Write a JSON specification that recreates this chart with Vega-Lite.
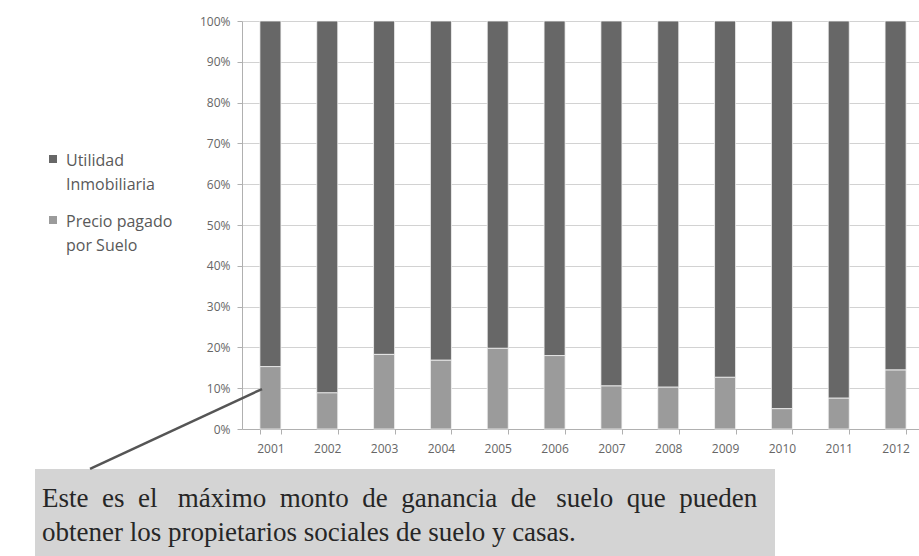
{
  "$schema": "https://vega.github.io/schema/vega-lite/v6.json",
  "width": 677,
  "height": 408,
  "autosize": {"type": "none"},
  "padding": {"left": 242, "top": 21, "right": 0, "bottom": 127},
  "background": "white",
  "config": {
    "view": {"stroke": null},
    "style": {"guide-label": {"lineHeight": 24, "dy": -6}}
  },
  "data": {
    "values": [
      {"anio": "2001", "serie": "Precio pagado por Suelo", "valor": 15.3},
      {"anio": "2001", "serie": "Utilidad Inmobiliaria", "valor": 84.7},
      {"anio": "2002", "serie": "Precio pagado por Suelo", "valor": 8.9},
      {"anio": "2002", "serie": "Utilidad Inmobiliaria", "valor": 91.1},
      {"anio": "2003", "serie": "Precio pagado por Suelo", "valor": 18.3},
      {"anio": "2003", "serie": "Utilidad Inmobiliaria", "valor": 81.7},
      {"anio": "2004", "serie": "Precio pagado por Suelo", "valor": 16.9},
      {"anio": "2004", "serie": "Utilidad Inmobiliaria", "valor": 83.1},
      {"anio": "2005", "serie": "Precio pagado por Suelo", "valor": 19.8},
      {"anio": "2005", "serie": "Utilidad Inmobiliaria", "valor": 80.2},
      {"anio": "2006", "serie": "Precio pagado por Suelo", "valor": 18.0},
      {"anio": "2006", "serie": "Utilidad Inmobiliaria", "valor": 82.0},
      {"anio": "2007", "serie": "Precio pagado por Suelo", "valor": 10.6},
      {"anio": "2007", "serie": "Utilidad Inmobiliaria", "valor": 89.4},
      {"anio": "2008", "serie": "Precio pagado por Suelo", "valor": 10.3},
      {"anio": "2008", "serie": "Utilidad Inmobiliaria", "valor": 89.7},
      {"anio": "2009", "serie": "Precio pagado por Suelo", "valor": 12.7},
      {"anio": "2009", "serie": "Utilidad Inmobiliaria", "valor": 87.3},
      {"anio": "2010", "serie": "Precio pagado por Suelo", "valor": 5.0},
      {"anio": "2010", "serie": "Utilidad Inmobiliaria", "valor": 95.0},
      {"anio": "2011", "serie": "Precio pagado por Suelo", "valor": 7.6},
      {"anio": "2011", "serie": "Utilidad Inmobiliaria", "valor": 92.4},
      {"anio": "2012", "serie": "Precio pagado por Suelo", "valor": 14.5},
      {"anio": "2012", "serie": "Utilidad Inmobiliaria", "valor": 85.5}
    ]
  },
  "layer": [
    {
      "mark": {"type": "bar", "stroke": "#f4f4f4", "strokeWidth": 0.8},
      "encoding": {
        "x": {
          "field": "anio",
          "type": "nominal",
          "scale": {"range": [0, 682], "paddingInner": 0.63, "paddingOuter": 0.315},
          "axis": {
            "title": null,
            "labelAngle": 0,
            "tickBand": "extent",
            "tickSize": 5,
            "tickColor": "#b0b0b0",
            "domainColor": "#b0b0b0",
            "labelFont": "Open Sans",
            "labelFontSize": 12,
            "labelColor": "#666666",
            "labelPadding": 15
          }
        },
        "y": {
          "field": "valor",
          "type": "quantitative",
          "stack": "normalize",
          "scale": {"domain": [0, 1]},
          "axis": {
            "title": null,
            "format": ".0%",
            "values": [0, 0.1, 0.2, 0.3, 0.4, 0.5, 0.6, 0.7, 0.8, 0.9, 1],
            "tickSize": 5,
            "tickColor": "#b0b0b0",
            "domainColor": "#b0b0b0",
            "gridColor": "#d2d2d2",
            "labelFont": "Open Sans",
            "labelFontSize": 12,
            "labelColor": "#666666",
            "labelPadding": 7,
            "labelOffset": 6
          }
        },
        "color": {
          "field": "serie",
          "type": "nominal",
          "scale": {
            "domain": ["Utilidad Inmobiliaria", "Precio pagado por Suelo"],
            "range": ["#676767", "#9b9b9b"]
          },
          "legend": {
            "title": null,
            "orient": "none",
            "legendX": -197,
            "legendY": 130,
            "symbolType": "square",
            "symbolSize": 64,
            "symbolStrokeWidth": 0,
            "labelFont": "Open Sans",
            "labelFontSize": 16,
            "labelColor": "#595959",
            "labelOffset": 5,
            "labelBaseline": "top",
            "rowPadding": 19,
            "labelExpr": "datum.label == 'Utilidad Inmobiliaria' ? ['Utilidad', 'Inmobiliaria'] : ['Precio pagado', 'por Suelo']"
          }
        },
        "order": {"field": "serie", "sort": "ascending"}
      }
    },
    {
      "data": {"values": [{}]},
      "mark": {"type": "rect", "color": "#d4d4d4"},
      "encoding": {
        "x": {"datum": -3.642, "type": "quantitative", "scale": {"domain": [0, 12], "range": [0, 682]}, "axis": null},
        "x2": {"datum": 9.378},
        "y": {"datum": -0.098, "type": "quantitative", "scale": {"domain": [0, 1]}, "axis": null},
        "y2": {"datum": -0.33}
      }
    },
    {
      "data": {"values": [{}]},
      "mark": {"type": "rule", "color": "#555555", "strokeWidth": 2.5},
      "encoding": {
        "x": {"datum": 0.352, "type": "quantitative", "scale": {"domain": [0, 12], "range": [0, 682]}, "axis": null},
        "x2": {"datum": -2.674},
        "y": {"datum": 0.098, "type": "quantitative", "scale": {"domain": [0, 1]}, "axis": null},
        "y2": {"datum": -0.098}
      }
    },
    {
      "data": {"values": [{}]},
      "mark": {
        "type": "text",
        "align": "left",
        "baseline": "alphabetic",
        "font": "Liberation Serif",
        "fontSize": 27,
        "lineHeight": 34,
        "color": "#262626"
      },
      "encoding": {
        "x": {"datum": -3.519, "type": "quantitative", "scale": {"domain": [0, 12], "range": [0, 682]}, "axis": null},
        "y": {"datum": -0.1912, "type": "quantitative", "scale": {"domain": [0, 1]}, "axis": null},
        "text": {"value": [
          "Este\u00a0\u00a0es\u00a0\u00a0el\u00a0\u00a0\u00a0máximo\u00a0\u00a0monto\u00a0\u00a0de\u00a0\u00a0ganancia\u00a0\u00a0de\u00a0\u00a0\u00a0suelo\u00a0\u00a0que\u00a0\u00a0pueden",
          "obtener los propietarios sociales de suelo y casas."
        ]}
      }
    }
  ],
  "resolve": {"scale": {"x": "independent", "y": "independent"}}
}
